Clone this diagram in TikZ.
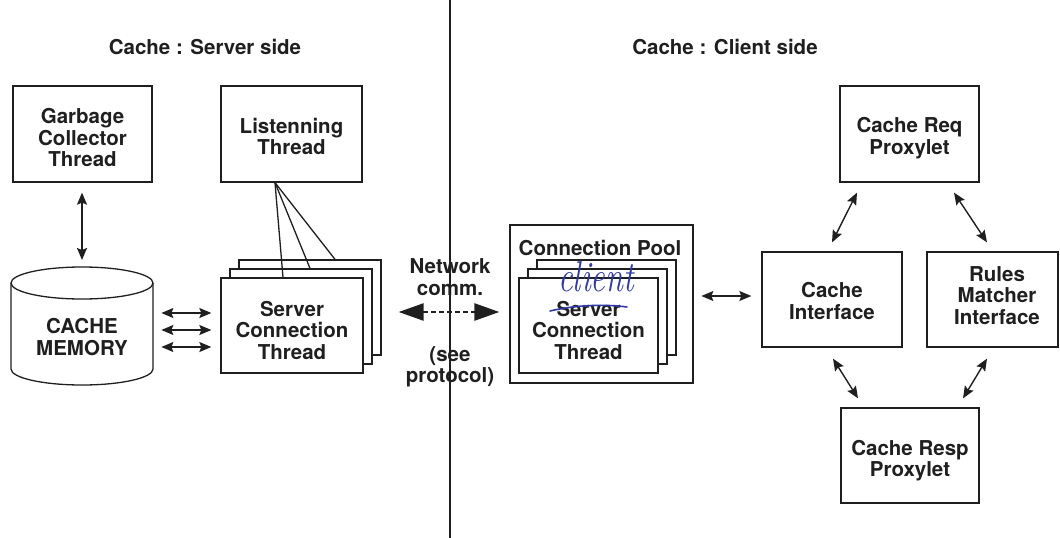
\documentclass[tikz,border=0pt]{standalone}
\usepackage{fontspec}
\setsansfont{TeX Gyre Heros}
\usetikzlibrary{arrows.meta,calc}
\definecolor{ink}{gray}{0.12}
\definecolor{handblue}{RGB}{48,58,165}
% tall strut on a first line pushes a centred label downwards
\newcommand{\topstrut}[1]{\rule{0pt}{#1}}
\begin{document}
\begin{tikzpicture}[x=1pt,y=-1pt,
  txt/.style={font=\sffamily\bfseries\fontsize{20.5}{21.5}\selectfont, text=ink, align=center},
  box/.style={txt, draw=ink, line width=1.3pt, fill=white, inner sep=0pt},
  tup/.style={execute at end node={\rule[-#1]{0pt}{#1}}},
  biarrow/.style={{Stealth[length=12pt,width=10pt,inset=2pt]}-{Stealth[length=12pt,width=10pt,inset=2pt]}, line width=1.4pt, draw=ink},
  bigarrow/.style={{Triangle[length=25pt,width=17pt]}-{Triangle[length=25pt,width=17pt]}, line width=2.6pt, draw=ink, dash pattern=on 5pt off 3pt},
  wire/.style={line width=1.3pt, draw=ink}]
\useasboundingbox (0,0) rectangle (1060,538);

% side titles
\node[txt] (ttlS) at (205,47) {Cache : Server side};
\node[txt] (ttlC) at (725,47) {Cache : Client side};

% ---- server side ----
\node[box, minimum width=139pt, minimum height=96pt] (gc) at (82.5,134) {\topstrut{23pt}Garbage\\Collector\\Thread};
\node[box, minimum width=141pt, minimum height=96pt] (listen) at (291.5,134) {\topstrut{20pt}Listenning\\Thread};

% cache memory cylinder
\draw[wire, fill=white] (11,283) -- (11,369) arc[start angle=180, end angle=0, x radius=71, y radius=16] -- (153,283);
\draw[wire] (82,283) ellipse [x radius=71, y radius=16];
\node[txt] (mem) at (82,337) {CACHE\\MEMORY};
\coordinate (memtop) at (82,267);

% server connection thread stack
\node[box, minimum width=142pt, minimum height=95pt] (srv3) at (310,307.5) {};
\node[box, minimum width=142pt, minimum height=95pt] (srv2) at (301,316.5) {};
\node[box, minimum width=142pt, minimum height=95pt] (srv1) at (292,325.5) {\topstrut{25pt}Server\\Connection\\Thread};

% listening thread to each connection thread
\coordinate (lsrc) at ($(listen.south)+(-16.5,0)$);
\draw[wire] (lsrc) -- ($(srv1.north)+(-9,0)$);
\draw[wire] (lsrc) -- ($(srv2.north)+(9,0)$);
\draw[wire] (lsrc) -- ($(srv3.north)+(25,0)$);

\draw[biarrow] ($(gc.south)+(-0.5,10)$) -- ($(memtop)+(0,-7)$);
\draw[biarrow] ($(srv1.west)+(-59,-12.5)$) -- ($(srv1.west)+(-9,-12.5)$);
\draw[biarrow] ($(srv1.west)+(-59,4.5)$) -- ($(srv1.west)+(-9,4.5)$);
\draw[biarrow] ($(srv1.west)+(-59,21.5)$) -- ($(srv1.west)+(-9,21.5)$);

% ---- network ----
\node[txt] (net) at (450,277) {Network\\comm.};
\node[txt] (proto) at (450,367) {(see\\protocol)};

% ---- client side ----
\node[box, minimum width=183pt, minimum height=158pt] (pool) at (601.5,304) {};
\node[txt] (pooltitle) at (600,248) {Connection Pool};
\node[box, minimum width=139pt, minimum height=95pt] (cl3) at (606.5,307.5) {};
\node[box, minimum width=139pt, minimum height=95pt] (cl2) at (597.5,316.5) {};
\node[box, minimum width=139pt, minimum height=95pt] (cl1) at (588.5,325.5) {\topstrut{25pt}Server\\Connection\\Thread};

\draw[bigarrow] ($(srv1.east)+(35,-13.5)$) -- ($(cl1.west)+(-19,-13.5)$);

% pen correction over the pooled thread label
\node[font=\rmfamily\itshape\fontsize{36}{36}\selectfont, text=handblue, anchor=base, inner sep=0pt] (hand) at (596,291) {\scalebox{0.9}[1.2]{client}};
\draw[handblue, line width=1.6pt, line cap=round] (550,311) .. controls (575,305) and (605,304) .. (627,307);

\node[box, minimum width=140pt, minimum height=95pt] (cif) at (832,299.5) {\topstrut{18pt}Cache\\Interface};
\node[box, tup=8pt, minimum width=131pt, minimum height=95pt] (rules) at (992.5,299.5) {\hspace*{9pt}Rules\\\hspace*{9pt}Matcher\\\hspace*{9pt}Interface};
\node[box, minimum width=139pt, minimum height=96pt] (req) at (909.5,134) {\topstrut{23pt}Cache Req\\Proxylet};
\node[box, minimum width=138pt, minimum height=95pt] (resp) at (910,455.5) {\topstrut{25pt}Cache Resp\\Proxylet};

\draw[biarrow] ($(cif.west)+(-60,-3.5)$) -- ($(cif.west)+(-10,-3.5)$);
\draw[biarrow] ($(req.south)+(-52.5,10)$) -- ($(cif.north)+(0,-9)$);
\draw[biarrow] ($(req.south)+(44.5,10)$) -- ($(rules.north)+(-5.5,-9)$);
\draw[biarrow] ($(cif.south)+(1,11)$) -- ($(resp.north)+(-52,-9)$);
\draw[biarrow] ($(rules.south)+(-5.5,11)$) -- ($(resp.north)+(53,-9)$);

% dividing line between the two sides
\draw[wire, line width=1.2pt] (450,0) -- (450,538);
\end{tikzpicture}
\end{document}
